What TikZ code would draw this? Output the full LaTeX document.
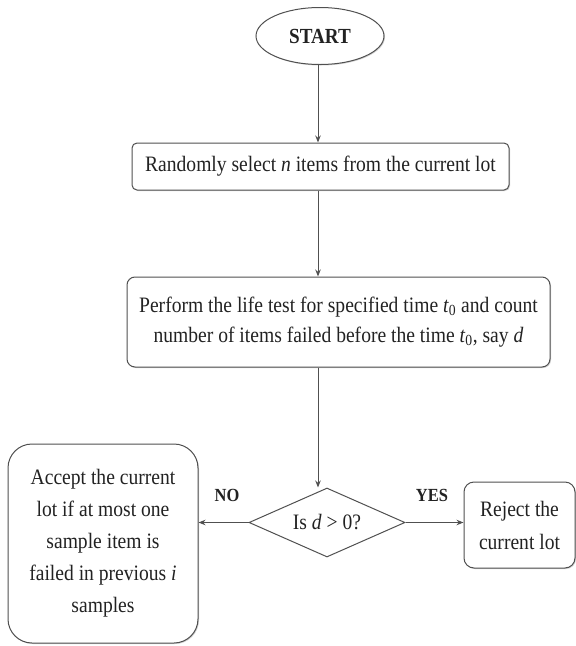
\documentclass[tikz,border=0pt]{standalone}
\usepackage{fontspec}
\setmainfont[FakeStretch=0.89]{Liberation Serif}
\usetikzlibrary{shapes.geometric,arrows.meta,shadows}
\definecolor{lineg}{HTML}{505050}
\definecolor{txt}{HTML}{222222}
\tikzset{
  base/.style={draw=lineg, fill=white, line width=1pt, text=txt, inner sep=0pt, align=center,
    font=\fontsize{22}{30}\selectfont},
  shad/.style={drop shadow={shadow xshift=1pt, shadow yshift=-1pt, opacity=0.3, fill=black!60}},
  rbox/.style={base, shad, rectangle},
  conn/.style={draw=lineg, line width=1pt, -{Stealth[length=7pt,width=5.5pt]}},
  lbl/.style={text=txt, font=\fontsize{18.5}{20}\selectfont\bfseries, inner sep=0pt}
}
\begin{document}
\begin{tikzpicture}[x=1pt,y=-1pt]
\useasboundingbox (0,0) rectangle (576,646);
\node[base, shad, ellipse, minimum width=128, minimum height=57, font=\fontsize{21.5}{24}\selectfont\bfseries] (start) at (320,36) {START};
\node[rbox, rounded corners=5pt, minimum width=377, minimum height=47] (sel) at (320.5,166.5)
  {Randomly select \textit{n} items from the current lot};
\node[rbox, rounded corners=8pt, minimum width=423, minimum height=90] (life) at (338.5,322)
  {Perform the life test for specified time \textit{t}\textsubscript{0} and count\\
   number of items failed before the time \textit{t}\textsubscript{0}, say \textit{d}};
\node[base, diamond, shape aspect=2, minimum width=156, minimum height=69] (dec) at (327,522.5)
  {Is \textit{d} > 0?};
\node[rbox, rounded corners=24pt, minimum width=190, minimum height=199, font=\fontsize{22}{32}\selectfont] (acc) at (103,543.5)
  {Accept the current\\lot if at most one\\sample item is\\failed in previous \textit{i}\\samples};
\node[rbox, rounded corners=10pt, minimum width=111, minimum height=86, font=\fontsize{22}{33}\selectfont] (rej) at (519.5,525)
  {Reject the\\current lot};
\coordinate (s1) at (318,0);
\draw[conn] (start.south -| s1) -- (sel.north -| s1);
\draw[conn] (sel.south -| s1) -- (life.north -| s1);
\draw[conn] (life.south -| s1) -- (dec.north -| s1);
\draw[conn] (dec.west) -- (dec.west -| acc.east);
\draw[conn] (dec.east) -- (dec.east -| rej.west);
\node[lbl] (no) at (227,495) {NO};
\node[lbl] (yes) at (432,495) {YES};
\end{tikzpicture}
\end{document}
